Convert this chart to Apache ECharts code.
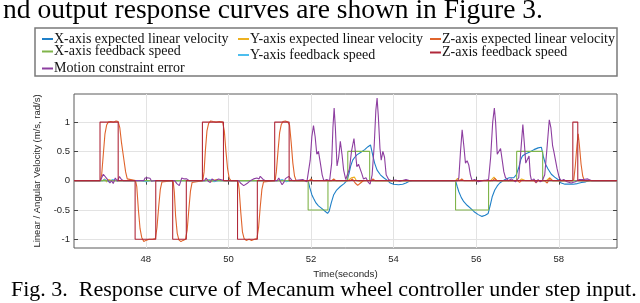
<!DOCTYPE html>
<html><head><meta charset="utf-8">
<script src="https://cdn.jsdelivr.net/npm/echarts@6/dist/echarts.min.js"></script>
<style>html,body{margin:0;padding:0;background:#fff}#c{width:640px;height:303px}</style>
</head><body><div id="c"></div>
<script>
// ---------- data ----------
const xTicks = [48, 50, 52, 54, 56, 58];
const yTicks = [-1, -0.5, 0, 0.5, 1];
const topText = 'nd output response curves are shown in Figure 3.';
const captionText = 'Fig. 3.  Response curve of Mecanum wheel controller under step input.';
const xAxisName = 'Time(seconds)';
const yAxisName = 'Linear / Angular Velocity (m/s, rad/s)';
const seriesNames = [
  'X-axis expected linear velocity', 'X-axis feedback speed', 'Motion constraint error',
  'Y-axis expected linear velocity', 'Y-axis feedback speed',
  'Z-axis expected linear velocity', 'Z-axis feedback speed'
];

// X-axis expected linear velocity (smooth blue response)
const xExpected = [[46.26,0],[51.93,0],[51.97,-0.12],[52.02,-0.24],[52.06,-0.30],[52.12,-0.38],[52.18,-0.43],[52.25,-0.47],[52.32,-0.51],[52.40,-0.56],[52.44,-0.52],[52.49,-0.38],[52.55,-0.24],[52.62,-0.16],[52.71,-0.10],[52.80,-0.05],[52.87,0.0],[52.92,0.12],[52.96,0.25],[53.01,0.35],[53.06,0.40],[53.11,0.44],[53.20,0.48],[53.30,0.53],[53.38,0.58],[53.44,0.61],[53.49,0.45],[53.54,0.30],[53.60,0.18],[53.68,0.10],[53.76,0.05],[53.84,0.01],[53.92,-0.04],[54.00,-0.06],[54.12,-0.07],[54.22,-0.06],[54.30,-0.04],[54.38,-0.01],[54.45,0],[55.50,0],[55.54,-0.10],[55.58,-0.19],[55.64,-0.29],[55.70,-0.36],[55.78,-0.42],[55.86,-0.47],[55.95,-0.53],[56.05,-0.58],[56.14,-0.61],[56.22,-0.59],[56.29,-0.56],[56.34,-0.42],[56.39,-0.27],[56.45,-0.16],[56.51,-0.09],[56.57,-0.04],[56.63,-0.01],[56.70,0.02],[56.80,0.05],[56.91,0.05],[56.97,0.10],[57.03,0.22],[57.08,0.36],[57.12,0.42],[57.20,0.46],[57.30,0.49],[57.40,0.53],[57.50,0.56],[57.58,0.57],[57.63,0.40],[57.68,0.28],[57.74,0.20],[57.82,0.11],[57.90,0.06],[57.98,0.02],[58.06,-0.04],[58.15,-0.06],[58.25,-0.06],[58.35,-0.06],[58.45,-0.05],[58.55,-0.03],[58.65,-0.02],[58.75,0.0],[59.41,0]];

// X-axis feedback speed (green step)
const xFeedback = [[46.26,0],[51.93,0],[51.93,-0.5],[52.41,-0.5],[52.41,0],[52.89,0],[52.89,0.5],[53.42,0.5],[53.42,0],[55.50,0],[55.50,-0.5],[56.30,-0.5],[56.30,0],[56.98,0],[56.98,0.5],[57.61,0.5],[57.61,0],[59.41,0]];

// Motion constraint error (purple)
const motionError = [[46.26,0],[46.90,0],[46.93,0.05],[46.97,0.11],[47.01,0.13],[47.05,0.04],[47.09,0.0],[47.13,-0.04],[47.17,0.0],[47.21,-0.05],[47.26,0.045],[47.31,-0.01],[47.36,0.07],[47.41,0.02],[47.46,0.0],[47.95,0],[47.98,0.045],[48.04,0.05],[48.10,0.04],[48.14,-0.01],[48.20,0],[48.70,0],[48.75,-0.05],[48.81,-0.085],[48.87,0.045],[48.93,0.03],[48.99,0.03],[49.05,0],[49.42,0],[49.46,0.045],[49.51,-0.01],[49.56,-0.03],[49.60,0.03],[49.64,0.035],[49.68,0.0],[49.72,-0.01],[49.76,0.03],[49.80,0.045],[49.87,0.005],[49.95,0],[50.25,0],[50.29,-0.04],[50.33,-0.07],[50.37,-0.085],[50.45,-0.05],[50.53,0.0],[50.61,0.03],[50.69,0.045],[50.74,0.03],[50.77,0.074],[50.84,0.02],[50.90,0],[51.18,0],[51.22,0.045],[51.26,-0.02],[51.30,-0.07],[51.34,-0.03],[51.38,0.035],[51.42,0.02],[51.46,0.074],[51.50,0.04],[51.54,0.005],[51.60,0],[51.80,0.02],[51.90,-0.02],[51.94,0.0],[51.98,0.35],[52.02,0.75],[52.06,0.94],[52.10,0.75],[52.14,0.45],[52.18,0.5],[52.22,0.33],[52.27,0.1],[52.31,0.0],[52.38,0.02],[52.45,0.0],[52.50,0.3],[52.53,0.9],[52.56,1.24],[52.59,0.9],[52.63,0.25],[52.67,0.4],[52.71,0.67],[52.75,0.45],[52.79,0.18],[52.84,0.02],[52.88,0.0],[52.93,0.2],[52.98,0.5],[53.04,0.72],[53.08,0.45],[53.11,0.24],[53.15,0.28],[53.19,0.30],[53.23,0.12],[53.27,0.03],[53.33,0.05],[53.38,-0.02],[53.43,-0.06],[53.48,0.1],[53.53,0.6],[53.57,1.2],[53.60,1.41],[53.63,1.1],[53.67,0.55],[53.70,0.35],[53.74,0.5],[53.78,0.4],[53.82,0.1],[53.88,0.02],[53.95,0.0],[54.05,0.01],[54.15,-0.01],[54.30,0.02],[54.40,0.0],[55.55,0.0],[55.58,0.05],[55.62,0.5],[55.66,0.87],[55.70,0.6],[55.74,0.30],[55.78,0.34],[55.82,0.27],[55.86,0.1],[55.90,0.0],[55.96,0.02],[56.05,-0.02],[56.15,0.0],[56.25,0.01],[56.30,0.02],[56.35,0.4],[56.40,1.0],[56.44,1.24],[56.47,1.0],[56.51,0.45],[56.55,0.42],[56.59,0.55],[56.63,0.35],[56.67,0.15],[56.71,0.05],[56.78,0.0],[56.85,0.03],[56.95,-0.02],[57.03,0.05],[57.08,0.5],[57.13,0.96],[57.17,0.6],[57.20,0.30],[57.24,0.3],[57.28,0.42],[57.31,0.1],[57.34,0.0],[57.40,0.03],[57.45,-0.03],[57.50,0.02],[57.55,-0.02],[57.60,0.0],[57.66,0.1],[57.72,0.6],[57.77,1.04],[57.81,0.9],[57.85,0.6],[57.88,0.5],[57.92,0.35],[57.96,0.2],[58.01,0.05],[58.06,0.0],[58.12,0.02],[58.20,-0.02],[58.30,-0.04],[58.40,-0.02],[58.50,0.02],[58.60,0.02],[58.70,0.03],[58.80,0.0],[59.41,0]];

// Y-axis expected linear velocity (yellow)
const yExpected = [[46.26,0],[46.95,0],[47.00,0.03],[47.05,-0.02],[47.10,0.02],[47.20,0],[49.45,0],[49.50,0.02],[49.60,-0.02],[49.70,0.02],[49.80,0],[52.90,0],[52.98,0.05],[53.05,0.06],[53.10,0.0],[53.20,-0.02],[53.30,0],[55.50,0],[55.55,0.04],[55.60,0],[56.35,0],[56.43,0.06],[56.50,0],[57.05,0],[57.10,0.03],[57.20,0],[57.70,0],[57.78,0.05],[57.85,0],[59.41,0]];

// Y-axis feedback speed (light blue)
const yFeedback = [[46.26,0],[46.95,0],[47.00,0.02],[47.10,-0.02],[47.20,0.02],[47.30,0],[47.90,0],[48.00,-0.02],[48.10,0],[49.45,0],[49.55,0.02],[49.65,-0.02],[49.75,0],[51.20,0],[51.30,0.02],[51.40,-0.02],[51.50,0],[59.41,0]];

// Z-axis expected linear velocity (orange smooth response)
const zExpected = [[46.26,0],[46.90,0],[46.93,0.1],[46.97,0.45],[47.01,0.8],[47.05,0.95],[47.09,1.0],[47.15,1.01],[47.22,1.0],[47.28,1.02],[47.33,1.01],[47.37,0.9],[47.41,0.65],[47.46,0.4],[47.51,0.15],[47.55,0.03],[47.59,0],[47.75,0],[47.78,-0.1],[47.82,-0.5],[47.86,-0.82],[47.90,-0.97],[47.95,-1.04],[48.00,-1.02],[48.08,-1.0],[48.16,-1.0],[48.23,-0.99],[48.27,-0.8],[48.31,-0.45],[48.35,-0.15],[48.39,-0.02],[48.43,0],[48.66,0],[48.69,-0.2],[48.72,-0.6],[48.76,-0.9],[48.80,-1.01],[48.85,-1.04],[48.90,-1.02],[48.96,-1.0],[49.00,-0.85],[49.04,-0.5],[49.08,-0.18],[49.12,-0.03],[49.16,0],[49.38,0],[49.41,0.15],[49.44,0.5],[49.48,0.85],[49.52,0.98],[49.57,1.02],[49.63,1.01],[49.70,1.0],[49.78,1.01],[49.86,1.0],[49.90,0.85],[49.94,0.5],[49.98,0.2],[50.02,0.04],[50.06,0],[50.23,0],[50.26,-0.15],[50.30,-0.55],[50.34,-0.88],[50.38,-0.99],[50.43,-1.02],[50.50,-1.0],[50.56,-1.02],[50.63,-1.0],[50.69,-0.99],[50.73,-0.8],[50.77,-0.45],[50.81,-0.15],[50.85,-0.02],[50.89,0],[51.13,0],[51.16,0.15],[51.20,0.5],[51.24,0.82],[51.28,0.96],[51.32,1.01],[51.38,1.02],[51.44,1.0],[51.48,0.95],[51.52,0.65],[51.56,0.3],[51.60,0.08],[51.64,0],[51.95,0],[52.00,0.03],[52.05,0],[52.50,0],[52.55,0.03],[52.60,0],[52.95,0],[53.00,0.03],[53.07,-0.04],[53.13,-0.08],[53.20,-0.04],[53.27,0],[53.45,0],[53.50,0.03],[53.55,0],[55.60,0],[55.65,0.03],[55.70,0],[56.40,0],[56.45,0.04],[56.50,0],[57.00,0],[57.05,-0.03],[57.10,0],[57.40,0],[57.45,-0.04],[57.50,0],[57.65,0],[57.72,-0.04],[57.78,0.04],[57.85,0],[58.36,0],[58.40,0.25],[58.44,0.6],[58.47,0.8],[58.50,0.6],[58.54,0.28],[58.58,0.08],[58.62,0],[59.41,0]];

// Z-axis feedback speed (dark red step)
const zFeedback = [[46.26,0],[46.89,0],[46.89,1],[47.33,1],[47.33,0],[47.74,0],[47.74,-1],[48.24,-1],[48.24,0],[48.65,0],[48.65,-1],[48.98,-1],[48.98,0],[49.37,0],[49.37,1],[49.88,1],[49.88,0],[50.22,0],[50.22,-1],[50.70,-1],[50.70,0],[51.12,0],[51.12,1],[51.47,1],[51.47,0],[58.34,0],[58.34,1],[58.46,1],[58.46,0],[59.41,0]];

// ---------- styles / layout ----------
const colors = {
  'X-axis expected linear velocity': '#1f80c8',
  'X-axis feedback speed': '#80b44a',
  'Motion constraint error': '#8d3ea0',
  'Y-axis expected linear velocity': '#edb120',
  'Y-axis feedback speed': '#4dbeee',
  'Z-axis expected linear velocity': '#e0642c',
  'Z-axis feedback speed': '#b0283a'
};
const legendLayout = [
  { name: 'X-axis expected linear velocity', left: 42, top: 32 },
  { name: 'X-axis feedback speed', left: 42, top: 44.5 },
  { name: 'Motion constraint error', left: 42, top: 61.5 },
  { name: 'Y-axis expected linear velocity', left: 238, top: 32 },
  { name: 'Y-axis feedback speed', left: 238, top: 48 },
  { name: 'Z-axis expected linear velocity', left: 430, top: 32 },
  { name: 'Z-axis feedback speed', left: 430, top: 45.5 }
];
const dataByName = {
  'X-axis expected linear velocity': xExpected,
  'X-axis feedback speed': xFeedback,
  'Motion constraint error': motionError,
  'Y-axis expected linear velocity': yExpected,
  'Y-axis feedback speed': yFeedback,
  'Z-axis expected linear velocity': zExpected,
  'Z-axis feedback speed': zFeedback
};
const drawOrder = [
  'X-axis expected linear velocity', 'Y-axis expected linear velocity', 'Y-axis feedback speed',
  'Z-axis expected linear velocity', 'X-axis feedback speed', 'Motion constraint error', 'Z-axis feedback speed'
];

const sans = 'Liberation Sans, Arial, sans-serif';
const serif = 'Liberation Serif, Times New Roman, serif';
const X_MIN = 46.26, X_MAX = 59.41, Y_MIN = -1.15, Y_MAX = 1.48;

const chart = echarts.init(document.getElementById('c'), null, { renderer: 'canvas' });

const axisCommon = {
  type: 'value',
  axisLine: { show: false },
  splitLine: { show: false }
};

const option = {
  animation: false,
  backgroundColor: '#fff',
  title: [
    { text: topText, left: 3, top: -3, padding: 0,
      textStyle: { fontFamily: serif, fontSize: 27.5, fontWeight: 'normal', color: '#000' } },
    { text: captionText, left: 11, top: 279, padding: 0,
      textStyle: { fontFamily: serif, fontSize: 22, fontWeight: 'normal', color: '#000' } }
  ],
  graphic: [{
    type: 'rect', z: 0,
    shape: { x: 35, y: 28, width: 582, height: 48 },
    style: { fill: '#fff', stroke: '#7a7a7a', lineWidth: 1.5 }
  }],
  legend: legendLayout.map(l => ({
    data: [l.name], left: l.left, top: l.top, padding: 0, z: 5,
    selectedMode: false, icon: 'rect', itemWidth: 11, itemHeight: 2,
    textStyle: { fontFamily: serif, fontSize: 14, color: '#111', lineHeight: 14, padding: [0, 0, 0, -4] }
  })),
  grid: { left: 74, right: 23, top: 94, bottom: 55, show: true, borderColor: '#5a5a5a', borderWidth: 1, containLabel: false },
  xAxis: [
    Object.assign({}, axisCommon, {
      min: X_MIN, max: X_MAX, position: 'bottom',
      name: xAxisName, nameLocation: 'middle', nameGap: 18,
      nameTextStyle: { fontFamily: sans, fontSize: 9.8, color: '#262626' },
      axisTick: { show: true, inside: true, length: 4, customValues: xTicks, lineStyle: { color: '#444' } },
      axisLabel: { show: true, customValues: xTicks, margin: 6, fontFamily: sans, fontSize: 9.5, color: '#262626' },
      splitLine: { show: true, lineStyle: { color: '#e3e3e3', width: 1 } }
    }),
    Object.assign({}, axisCommon, {
      min: X_MIN, max: X_MAX, position: 'top',
      axisTick: { show: true, inside: true, length: 4, customValues: xTicks, lineStyle: { color: '#444' } },
      axisLabel: { show: false, customValues: xTicks }
    })
  ],
  yAxis: [
    Object.assign({}, axisCommon, {
      min: Y_MIN, max: Y_MAX, position: 'left',
      name: yAxisName, nameLocation: 'middle', nameGap: 23,
      nameTextStyle: { fontFamily: sans, fontSize: 9.5, color: '#262626' },
      axisTick: { show: true, inside: true, length: 4, customValues: yTicks, lineStyle: { color: '#444' } },
      axisLabel: { show: true, customValues: yTicks, margin: 4, fontFamily: sans, fontSize: 9.5, color: '#262626' },
      splitLine: { show: true, lineStyle: { color: '#e3e3e3', width: 1 } }
    }),
    Object.assign({}, axisCommon, {
      min: Y_MIN, max: Y_MAX, position: 'right',
      axisTick: { show: true, inside: true, length: 4, customValues: yTicks, lineStyle: { color: '#444' } },
      axisLabel: { show: false, customValues: yTicks }
    })
  ],
  series: drawOrder.map(name => ({
    name: name, type: 'line', data: dataByName[name],
    xAxisIndex: 0, yAxisIndex: 0,
    showSymbol: false, symbol: 'none', clip: true,
    color: colors[name],
    lineStyle: { color: colors[name], width: 1.1 },
    emphasis: { disabled: true }
  }))
};
chart.setOption(option);
</script>
</body></html>
